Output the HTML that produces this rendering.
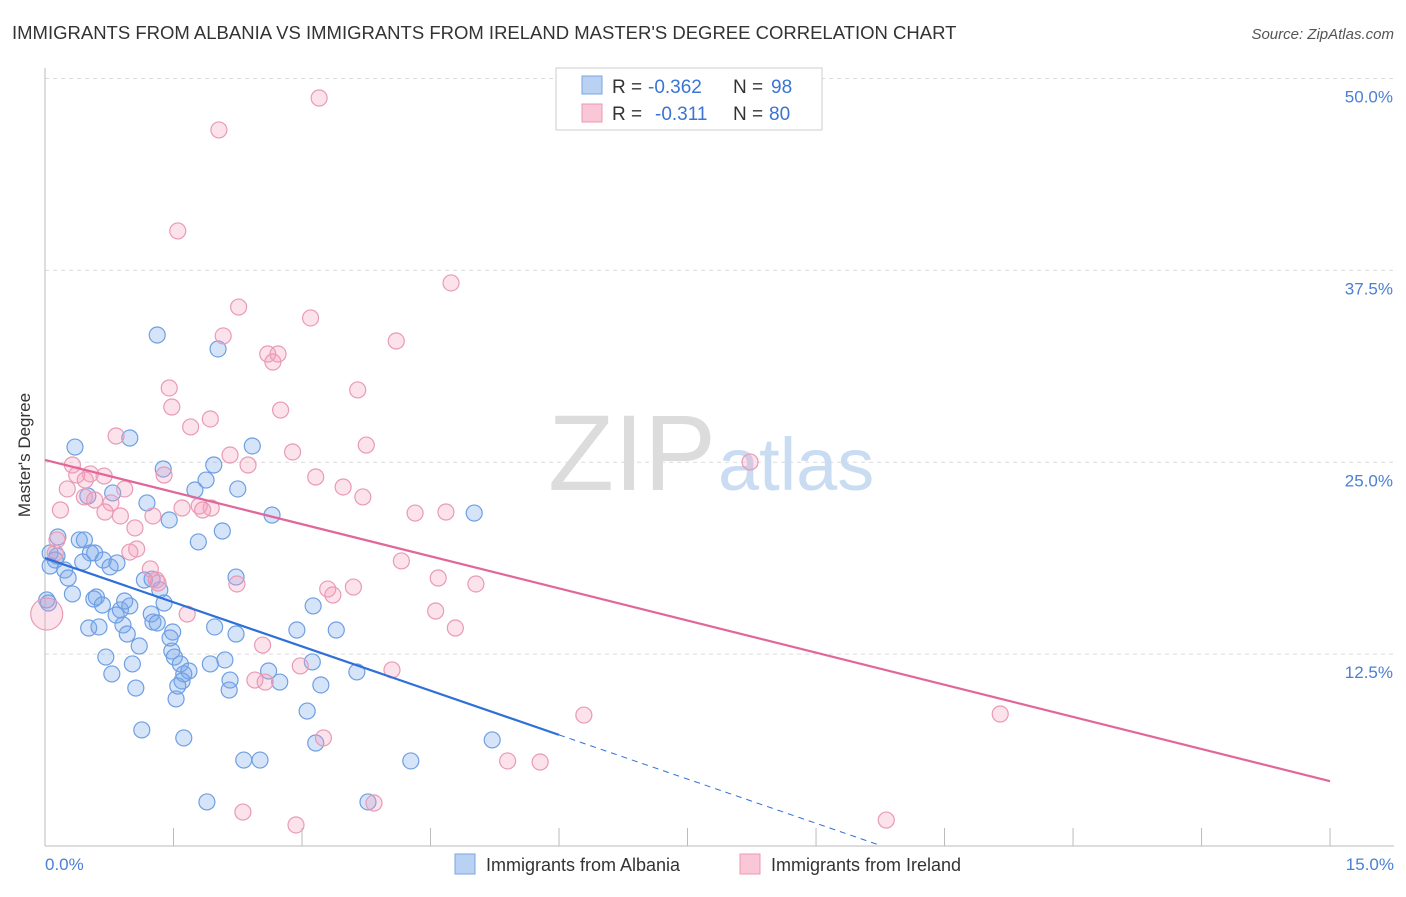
<!DOCTYPE html>
<html><head><meta charset="utf-8"><style>
body{margin:0;background:#fff;font-family:"Liberation Sans",sans-serif}
svg text{font-family:"Liberation Sans",sans-serif}
</style></head><body>
<svg id="chart" width="1406" height="892" viewBox="0 0 1406 892" xmlns="http://www.w3.org/2000/svg">
<text x="12" y="39" font-size="18.5" fill="#333">IMMIGRANTS FROM ALBANIA VS IMMIGRANTS FROM IRELAND MASTER'S DEGREE CORRELATION CHART</text>
<text x="1394" y="39" font-size="15" fill="#555" font-style="italic" text-anchor="end">Source: ZipAtlas.com</text>
<g id="grid"></g>
<text x="716" y="490" font-size="108" fill="#dcdcdc" text-anchor="end" font-family="Liberation Serif">ZIP</text>
<text x="718" y="490" font-size="74" fill="#c9dcf2">atlas</text>
<g id="axes"></g>
<g id="marks"></g>
<text x="30" y="455" font-size="17" fill="#333" text-anchor="middle" transform="rotate(-90 30 455)">Master's Degree</text>
<text x="45" y="870" font-size="17" fill="#4a7fd4">0.0%</text>
<text x="1394" y="870" font-size="17" fill="#4a7fd4" text-anchor="end">15.0%</text>
<g>
<rect x="556" y="68" width="266" height="62" fill="#fff" stroke="#ccc"/>
<rect x="582" y="76" width="20" height="18" fill="#b9d2f3" stroke="#7aa5e2"/>
<rect x="582" y="104" width="20" height="18" fill="#f9c7d6" stroke="#e99ab4"/>
<text x="612" y="93" font-size="19" fill="#333">R =</text>
<text x="648" y="93" font-size="19" fill="#3a74d4">-0.362</text>
<text x="733" y="93" font-size="19" fill="#333">N =</text>
<text x="771" y="93" font-size="19" fill="#3a74d4">98</text>
<text x="612" y="120" font-size="19" fill="#333">R =</text>
<text x="655" y="120" font-size="19" fill="#3a74d4">-0.311</text>
<text x="733" y="120" font-size="19" fill="#333">N =</text>
<text x="769" y="120" font-size="19" fill="#3a74d4">80</text>
</g>
<g>
<rect x="455" y="854" width="20" height="20" fill="#b9d2f3" stroke="#7aa5e2"/>
<text x="486" y="871" font-size="18" fill="#333">Immigrants from Albania</text>
<rect x="740" y="854" width="20" height="20" fill="#f9c7d6" stroke="#e99ab4"/>
<text x="771" y="871" font-size="18" fill="#333">Immigrants from Ireland</text>
</g>
</svg>
<script>
const yTicks=[12.5,25,37.5,50];
const yTickLabels=["12.5%","25.0%","37.5%","50.0%"];
const xTicks=[0,1.5,3,4.5,6,7.5,9,10.5,12,13.5,15];
const albaniaX=[1.31,2.02,0.35,0.99,2.42,1.38,1.97,1.88,2.25,0.79,0.50,1.19,1.75,2.65,5.01,1.45,2.07,0.15,0.40,0.46,1.79,0.06,0.14,0.53,0.58,0.12,0.44,0.68,0.84,0.06,0.23,0.27,0.76,1.16,2.23,1.25,1.34,0.32,0.60,0.57,0.67,0.88,0.99,0.93,1.24,1.39,0.83,1.26,1.31,0.91,0.51,0.63,0.96,1.49,1.98,2.23,1.46,2.94,3.40,3.13,1.10,1.48,1.51,0.71,1.02,1.58,1.93,2.10,1.68,1.62,2.61,3.12,3.64,0.78,1.60,2.16,2.74,3.22,1.06,1.55,2.15,1.53,3.06,1.13,1.62,3.16,5.22,2.32,2.51,4.27,1.89,3.77,0.04,0.02];
const albaniaY=[33.29,32.38,25.99,26.58,26.06,24.56,24.82,23.84,23.26,23.0,22.8,22.35,23.19,21.56,21.69,21.24,20.52,20.13,19.94,19.94,19.81,19.09,18.89,19.09,19.09,18.63,18.5,18.63,18.44,18.24,17.98,17.46,18.18,17.33,17.52,17.39,16.68,16.42,16.22,16.09,15.7,15.38,15.64,15.96,15.11,15.83,15.05,14.59,14.53,14.4,14.2,14.27,13.81,13.94,14.27,13.81,13.55,14.07,14.07,15.64,13.03,12.7,12.31,12.31,11.86,11.86,11.86,12.12,11.4,11.21,11.4,11.99,11.34,11.21,10.75,10.81,10.68,10.49,10.29,10.42,10.16,9.58,8.79,7.56,7.04,6.71,6.91,5.6,5.6,5.54,2.87,2.87,15.83,16.03];
const irelandX=[3.20,2.03,1.55,4.74,2.26,3.10,2.08,4.10,2.60,2.72,2.66,1.45,3.65,2.75,1.48,1.93,1.70,0.83,3.75,2.16,2.89,0.32,8.23,2.37,0.53,0.69,3.16,0.37,1.39,0.47,0.26,3.48,0.93,0.46,3.71,0.77,0.58,1.94,1.60,1.80,1.84,0.18,4.32,4.68,0.70,0.88,1.26,1.05,0.14,0.12,1.07,0.99,4.16,1.23,4.59,1.30,1.32,5.03,2.24,3.30,3.60,3.36,4.56,1.66,4.79,2.54,2.98,4.05,2.45,2.57,6.29,11.15,3.25,5.40,5.78,2.31,3.84,2.93,9.82,0.02];
const irelandY=[48.73,46.65,40.07,36.68,35.11,34.4,33.23,32.9,32.05,32.05,31.53,29.84,29.71,28.4,28.6,27.82,27.3,26.71,26.12,25.47,25.67,24.82,25.02,24.82,24.24,24.1,24.04,24.17,24.17,23.84,23.26,23.39,23.26,22.74,22.74,22.35,22.54,22.02,22.02,22.15,21.89,21.89,21.69,21.76,21.76,21.5,21.5,20.72,19.94,19.09,19.35,19.15,18.57,18.05,17.46,17.33,17.13,17.07,17.07,16.74,16.87,16.35,15.31,15.11,14.2,13.09,11.73,11.47,10.81,10.68,8.53,8.6,7.04,5.54,5.47,2.21,2.8,1.37,1.69,15.11];
const albaniaTrend=[18.76,-1.92];   // intercept, slope
const irelandTrend=[25.15,-1.395];
const albaniaSolidEnd=6.0, albaniaDashEnd=9.75;

const NS="http://www.w3.org/2000/svg";
const sx=v=>45+v*85.67, sy=v=>846-v*15.35;
function mk(tag,attrs,parent){const e=document.createElementNS(NS,tag);for(const k in attrs)e.setAttribute(k,attrs[k]);parent.appendChild(e);return e;}
const grid=document.getElementById('grid'),axes=document.getElementById('axes'),marks=document.getElementById('marks');
yTicks.forEach((t,i)=>{
  const l=mk('line',{x1:45,x2:1394,y1:sy(t),y2:sy(t),stroke:'#dcdcdc','stroke-dasharray':'4 4'},grid);
  
  
  const tx=mk('text',{x:1393,y:sy(t)+24,'font-size':17,fill:'#4a7fd4','text-anchor':'end'},grid);
  tx.textContent=yTickLabels[i];
  
  
});
const xa=mk('line',{x1:45,x2:1394,y1:846,y2:846,stroke:'#bbb'},axes);


const ya=mk('line',{x1:45,x2:45,y1:68,y2:846,stroke:'#bbb'},axes);


xTicks.forEach(t=>{
  const l=mk('line',{x1:sx(t),x2:sx(t),y1:828,y2:846,stroke:'#bbb'},axes);
  
  
});
function pts(X,Y,fill,stroke,name){
  X.forEach((x,i)=>{
    const big=(x<0.05&&name==='ireland-point'&&Y[i]>15&&Y[i]<15.2);
    const c=mk('circle',{cx:sx(x),cy:sy(Y[i]),r:big?16:8,fill:fill,stroke:stroke,'stroke-width':1.2},marks);
    
    
  });
}
pts(albaniaX,albaniaY,'rgba(120,165,235,0.3)','#6e9fe2','albania-point');
pts(irelandX,irelandY,'rgba(244,160,190,0.3)','#e99ab4','ireland-point');
const ta=mk('line',{x1:sx(0),y1:sy(albaniaTrend[0]),x2:sx(albaniaSolidEnd),y2:sy(albaniaTrend[0]+albaniaTrend[1]*albaniaSolidEnd),stroke:'#2e6fd8','stroke-width':2.2},marks);


const td=mk('line',{x1:sx(albaniaSolidEnd),y1:sy(albaniaTrend[0]+albaniaTrend[1]*albaniaSolidEnd),x2:sx(albaniaDashEnd),y2:sy(albaniaTrend[0]+albaniaTrend[1]*albaniaDashEnd),stroke:'#2e6fd8','stroke-width':1,'stroke-dasharray':'6 5'},marks);


const ti=mk('line',{x1:sx(0),y1:sy(irelandTrend[0]),x2:sx(15),y2:sy(irelandTrend[0]+irelandTrend[1]*15),stroke:'#e0679a','stroke-width':2.2},marks);


</script>
</body></html>
